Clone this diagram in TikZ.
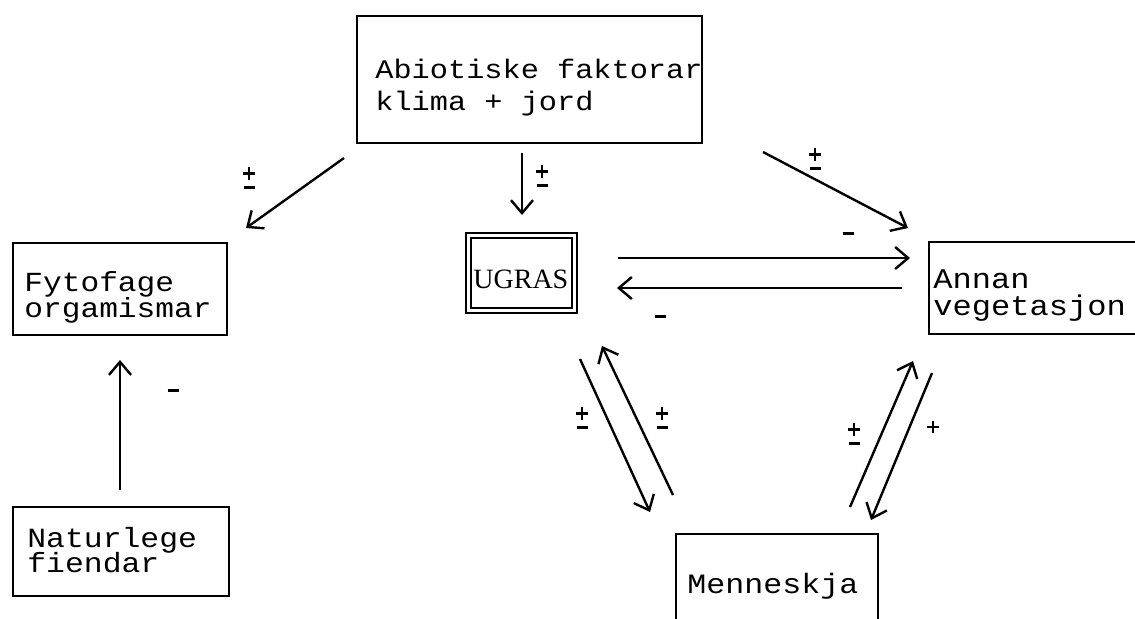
\documentclass[tikz,border=0pt]{standalone}
\usepackage{fontspec}
\setmonofont[FakeStretch=1.13]{Liberation Mono}
\newfontfamily\ugfont{Liberation Serif}
\usetikzlibrary{arrows.meta}
\newcommand\nols{\lineskiplimit=-100pt\relax}
\newcommand\plusg{\hbox{\rlap{\raisebox{2.6pt}{\rule{6pt}{1.1pt}}}\hspace{2.45pt}\rule{1.1pt}{6.2pt}\hspace{2.45pt}}}
\newcommand\pmsign{\vbox{\offinterlineskip\halign{\hfil##\hfil\cr\plusg\cr\noalign{\kern3pt}\rule{5.5pt}{1.5pt}\cr}}}
\newcommand\mnsign{\rule{5.5pt}{1.5pt}}
\begin{document}
\begin{tikzpicture}[x=0.5pt,y=-0.5pt,
  box/.style={draw, line width=0.8pt, inner sep=0pt},
  txt/.style={align=left, anchor=base west, inner sep=0pt},
  arr/.style={-{Straight Barb[length=6.5pt,width=11pt,line width=1.2pt]}, line width=1.2pt},
  sgn/.style={inner sep=0pt}]
\useasboundingbox (0,0) rectangle (1135,618);
% boxes
\node[box, minimum width=172.5pt, minimum height=63.5pt] (A) at (529.5,79.5) {};
\node[box, minimum width=107pt, minimum height=46pt] (F) at (120,289) {};
\node[box, minimum width=108pt, minimum height=44.5pt] (N) at (121,551.5) {};
\node[box, minimum width=118pt, minimum height=46pt] (V) at (1047,288) {};
\node[box, minimum width=101pt, minimum height=60pt] (M) at (777,594) {};
\node[draw, double, line width=0.8pt, double distance=1.7pt, minimum width=53pt, minimum height=37.5pt, inner sep=0pt] (U) at (521.5,273) {};
% texts (anchored at the baseline of the last line)
\node[txt, font=\ttfamily\fontsize{13.4}{16}\selectfont\nols] (At) at (375,110) {Abiotiske faktorar\\klima + jord};
\node[txt, font=\ttfamily\fontsize{13.8}{13}\selectfont\nols] (Ft) at (24,317) {Fytofage\\orgamismar};
\node[txt, font=\ttfamily\fontsize{14.2}{13.5}\selectfont\nols] (Vt) at (933,315) {Annan\\vegetasjon};
\node[txt, font=\ttfamily\fontsize{13.9}{12.5}\selectfont\nols] (Nt) at (27,572) {Naturlege\\fiendar};
\node[txt, font=\ttfamily\fontsize{14}{14}\selectfont] (Mt) at (687,593) {Menneskja};
\node[anchor=base west, inner sep=0pt, font=\ugfont\fontsize{14}{14}\selectfont] (Ut) at (473,288) {UGRAS};
% arrow end points
\coordinate (a1s) at (344,158); \coordinate (a1e) at (246,228);
\coordinate (a2s) at (522,153); \coordinate (a2e) at (522,215);
\coordinate (a3s) at (763,152); \coordinate (a3e) at (908,228);
\coordinate (h1s) at (618,258); \coordinate (h1e) at (910,258);
\coordinate (h2s) at (902,288); \coordinate (h2e) at (617,288);
\coordinate (d1s) at (580,359); \coordinate (d1e) at (650,512);
\coordinate (d2s) at (673,495); \coordinate (d2e) at (602,346);
\coordinate (e1s) at (850,507); \coordinate (e1e) at (913,361);
\coordinate (e2s) at (932,373); \coordinate (e2e) at (871,520);
\coordinate (n1s) at (120,490); \coordinate (n1e) at (120,360);
% arrows
\draw[arr] (a1s) -- (a1e);
\draw[arr] (a2s) -- (a2e);
\draw[arr] (a3s) -- (a3e);
\draw[arr] (h1s) -- (h1e);
\draw[arr] (h2s) -- (h2e);
\draw[arr] (d1s) -- (d1e);
\draw[arr] (d2s) -- (d2e);
\draw[arr] (e1s) -- (e1e);
\draw[arr] (e2s) -- (e2e);
\draw[arr] (n1s) -- (n1e);
% signs
\node[sgn] (s1) at (249,178) {\pmsign};
\node[sgn] (s2) at (542,176) {\pmsign};
\node[sgn] (s3) at (815,159) {\pmsign};
\node[sgn] (s4) at (848,233) {\mnsign};
\node[sgn] (s5) at (660,316) {\mnsign};
\node[sgn] (s6) at (582,418) {\pmsign};
\node[sgn] (s7) at (662,418) {\pmsign};
\node[sgn] (s8) at (854,434) {\pmsign};
\node[sgn] (s9) at (933,427) {\plusg};
\node[sgn] (s10) at (173,390) {\mnsign};
\end{tikzpicture}
\end{document}
